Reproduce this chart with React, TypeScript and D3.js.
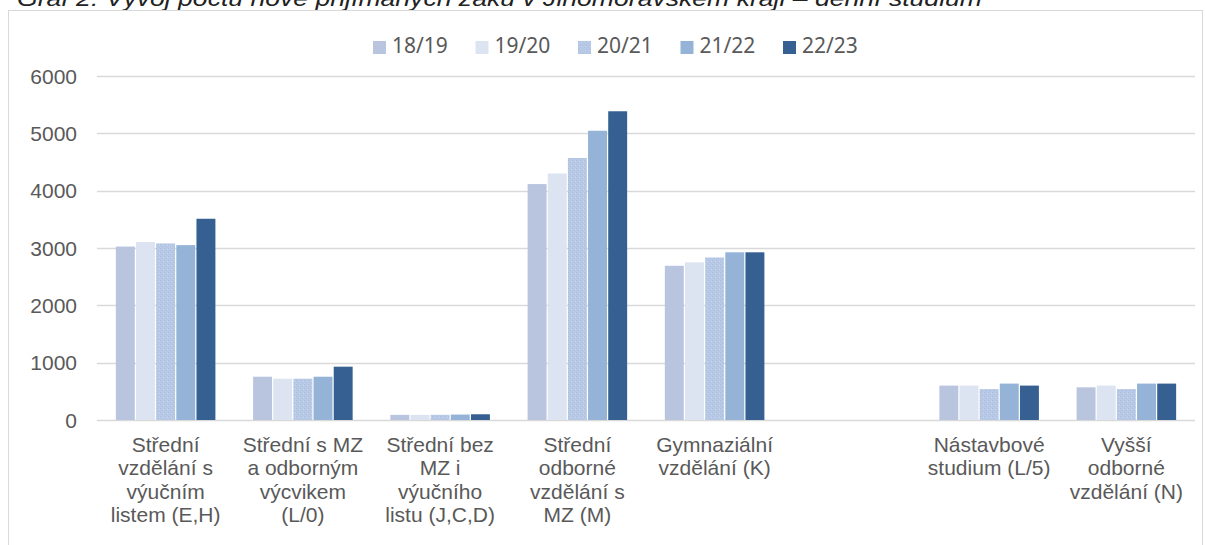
import * as d3 from 'd3'

const categoryLines: string[][] = [
  ['Střední', 'vzdělání s', 'výučním', 'listem (E,H)'],
  ['Střední s MZ', 'a odborným', 'výcvikem', '(L/0)'],
  ['Střední bez', 'MZ i', 'výučního', 'listu (J,C,D)'],
  ['Střední', 'odborné', 'vzdělání s', 'MZ (M)'],
  ['Gymnaziální', 'vzdělání (K)'],
  [],
  ['Nástavbové', 'studium (L/5)'],
  ['Vyšší', 'odborné', 'vzdělání (N)'],
]
const categories = ['EH', 'L0', 'JCD', 'M', 'K', 'blank', 'L5', 'N']
const seriesNames = ['18/19', '19/20', '20/21', '21/22', '22/23']

const v1819 = [3025, 755, 90, 4115, 2690, null, 600, 570]
const v1920 = [3105, 720, 90, 4300, 2750, null, 600, 600]
const v2021 = [3080, 720, 90, 4570, 2835, null, 540, 540]
const v2122 = [3050, 755, 95, 5045, 2925, null, 635, 635]
const v2223 = [3510, 930, 100, 5385, 2925, null, 600, 635]
const seriesValues = [v1819, v1920, v2021, v2122, v2223]

const yTicks = [0, 1000, 2000, 3000, 4000, 5000, 6000]
const title = 'Graf 2: Vývoj počtu nově přijímaných žáků v Jihomoravském kraji – denní studium'

const colors = ['#b9c5df', '#dce4f1', 'url(#dots)', '#95b3d7', '#366092']
const legendColors = ['#b9c5df', '#dce4f1', '#b7c9e6', '#95b3d7', '#366092']

const W = 1205
const H = 545
const left = 97
const right = 1195
const textColor = '#595959'
const font = '"Liberation Sans", Arial, sans-serif'

export default function App() {
  const x0 = d3.scaleBand<string>()
    .domain(categories)
    .range([left, right])
    .paddingInner(0.257)
    .paddingOuter(0.1285)

  const x1 = d3.scaleBand<string>()
    .domain(seriesNames)
    .range([0, x0.bandwidth()])
    .padding(0.06)

  const y = d3.scaleLinear().domain([0, 6000]).range([420, 76])

  return (
    <svg width={W} height={H} style={{ position: 'absolute', left: 0, top: 0 }}>
      <defs>
        <pattern id="dots" width="4" height="4" patternUnits="userSpaceOnUse">
          <rect width="4" height="4" fill="#b8c9e6" />
          <rect x="0" y="0" width="1" height="1" fill="#a7bcdf" />
          <rect x="2" y="2" width="1" height="1" fill="#a9bee0" />
          <rect x="3" y="1" width="1" height="1" fill="#c8d7ee" />
        </pattern>
      </defs>
      <rect width={W} height={H} fill="#fff" />

      <text x={17} y={6} fontFamily={font} fontStyle="italic" fontSize={22} fill="#222"
        textLength={965} lengthAdjust="spacingAndGlyphs">{title}</text>
      <rect x={8.5} y={10.5} width={1194} height={600} fill="none" stroke="#d9d9d9" />

      {/* gridlines and y labels */}
      {yTicks.map(t => (
        <g key={t}>
          <line x1={left} x2={right} y1={Math.round(y(t)) + 0.5} y2={Math.round(y(t)) + 0.5}
            stroke="#d9d9d9" strokeWidth={1.3} />
          <text x={77} y={y(t)} dy="0.36em" textAnchor="end" fontFamily={font} fontSize={21}
            fill={textColor}>{t}</text>
        </g>
      ))}

      {/* bars */}
      {seriesValues.map((vals, si) => (
        <g key={seriesNames[si]}>
          {vals.map((v, ci) => v == null ? null : (
            <rect key={ci}
              x={(x0(categories[ci]) ?? 0) + (x1(seriesNames[si]) ?? 0)}
              y={y(v)}
              width={x1.bandwidth()}
              height={y(0) - y(v)}
              fill={colors[si]} />
          ))}
        </g>
      ))}

      {/* category labels */}
      {categoryLines.map((lines, ci) => (
        <text key={ci} textAnchor="middle" fontFamily={font} fontSize={21} fill={textColor}>
          {lines.map((ln, li) => (
            <tspan key={li} x={(x0(categories[ci]) ?? 0) + x0.bandwidth() / 2} y={452 + li * 23.3}>{ln}</tspan>
          ))}
        </text>
      ))}

      {/* legend */}
      {seriesNames.map((s, i) => (
        <g key={s} transform={`translate(${373 + i * 102.5},41)`}>
          <rect width={13} height={13} fill={legendColors[i]} />
          {i === 2 && <rect width={13} height={13} fill="url(#dots)" />}
          <text x={19} y={12} fontFamily='"Noto Sans", sans-serif' fontSize={21} fill={textColor}>{s}</text>
        </g>
      ))}
    </svg>
  )
}
